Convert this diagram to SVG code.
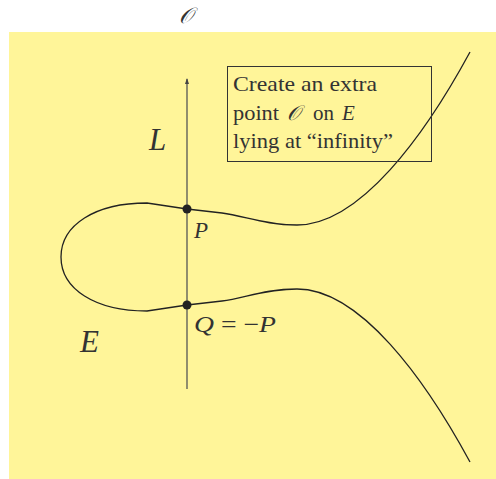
<svg xmlns="http://www.w3.org/2000/svg" width="496" height="479" viewBox="0 0 496 479">
<style>
.t{font-family:"Liberation Serif","DejaVu Serif",serif;fill:#333;}
.m{font-style:italic;}
.curve{fill:none;stroke:#222;stroke-width:1.3;}
.dot{fill:#222;}
</style>
<defs>
<marker id="ah" viewBox="0 0 6 4" refX="5" refY="2" markerWidth="6" markerHeight="4" markerUnits="userSpaceOnUse" orient="auto">
<path d="M0,0 L6,2 L0,4 Z" fill="#444"/>
</marker>
</defs>
<rect x="9" y="32" width="487" height="447" fill="#FFF599"/>
<text class="t m" x="186" y="23" font-size="22" text-anchor="middle">𝒪</text>
<g id="connectors">
<line x1="187" y1="389" x2="187" y2="79" stroke="#555" stroke-width="1.3" marker-end="url(#ah)"/>
</g>
<g id="curve-E">
<path class="curve" d="M470,52 C425,135 360,225 297,225 C265,225 245,216 222,213 L187,209 L147,203 C95,203 61,225 61,257 C61,289 95,311 147,311 L187,305 L222,301 C245,298 265,289 297,289 C360,289 425,379 470,462"/>
</g>
<g id="note">
<rect x="227.5" y="66.5" width="204" height="95" fill="none" stroke="#333" stroke-width="1"/>
<text class="t" x="233" y="91" font-size="21" textLength="144" lengthAdjust="spacingAndGlyphs">Create an extra</text>
<text class="t" y="120" font-size="21"><tspan x="233" textLength="46" lengthAdjust="spacingAndGlyphs">point</tspan><tspan class="m" x="287">𝒪</tspan><tspan x="313">on</tspan><tspan class="m" x="342">E</tspan></text>
<text class="t" x="233" y="148" font-size="21" textLength="160" lengthAdjust="spacingAndGlyphs">lying at “infinity”</text>
</g>
<g id="L"><text class="t m" x="149" y="150" font-size="31">L</text></g>
<g id="E"><text class="t m" x="80" y="352" font-size="31">E</text></g>
<g id="P">
<circle class="dot" cx="187" cy="209" r="4.5"/>
<text class="t m" x="194" y="238" font-size="23">P</text>
</g>
<g id="Q">
<circle class="dot" cx="187" cy="305" r="4.5"/>
<text class="t" x="194" y="332" font-size="23" textLength="82" lengthAdjust="spacingAndGlyphs"><tspan class="m">Q</tspan> = −<tspan class="m">P</tspan></text>
</g>
</svg>
